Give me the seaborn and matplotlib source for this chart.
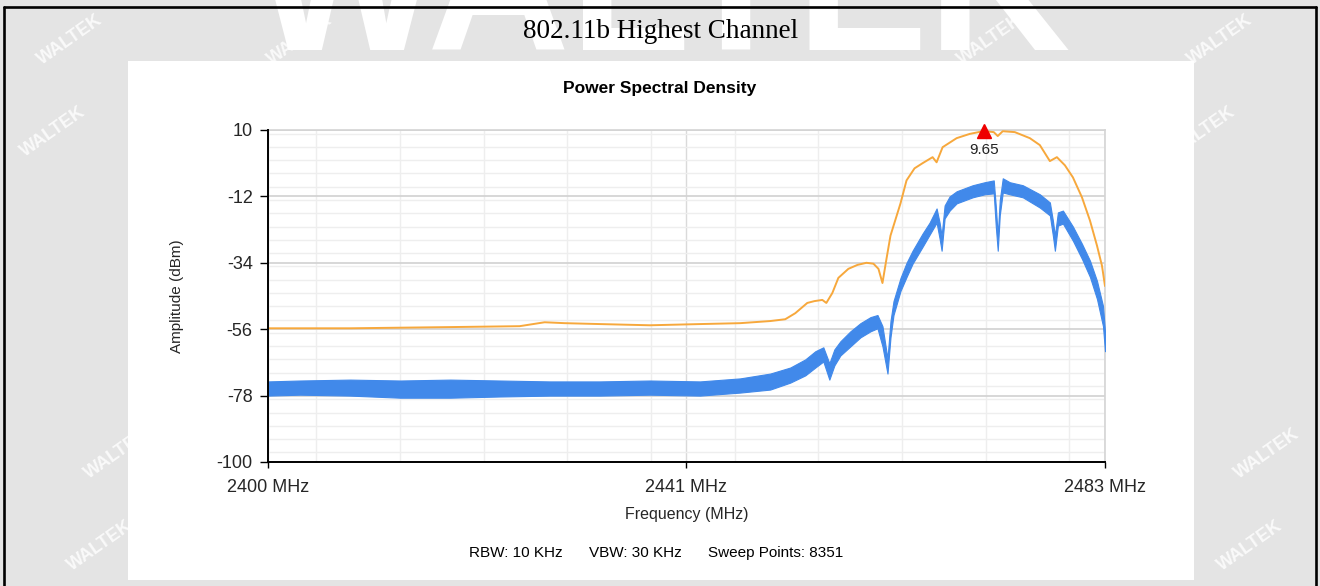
import numpy as np
import matplotlib
matplotlib.use("Agg")
import matplotlib.pyplot as plt
from matplotlib.patches import Rectangle
from matplotlib.lines import Line2D
from matplotlib.ticker import MultipleLocator, FixedLocator
import seaborn as sns
import pandas as pd

# ---------------- data ----------------
page_title = "802.11b Highest Channel"
chart_title = "Power Spectral Density"
x_label = "Frequency (MHz)"
y_label = "Amplitude (dBm)"
footer = ["RBW: 10 KHz", "VBW: 30 KHz", "Sweep Points: 8351"]
y_ticks = [10, -12, -34, -56, -78, -100]
x_ticks = [2400.0, 2441.75, 2483.5]
x_tick_labels = ["2400 MHz", "2441 MHz", "2483 MHz"]
peak_freq = 2471.4
peak_value = 9.65

# max-hold trace (orange)
orange_freq = [2400.0, 2408.2, 2418.2, 2425.1, 2427.6, 2429.6, 2433.1, 2438.1, 2443.1, 2447.1,
               2450.1, 2451.6, 2452.6, 2453.8, 2454.5, 2455.3, 2455.7, 2456.3, 2456.9, 2457.9,
               2458.8, 2459.7, 2460.4, 2460.9, 2461.3, 2461.7, 2462.1, 2463.1, 2463.7, 2464.5,
               2465.3, 2466.3, 2466.7, 2467.3, 2468.7, 2470.0, 2471.4, 2472.4, 2472.8, 2473.3,
               2474.5, 2476.0, 2477.0, 2478.0, 2478.7, 2479.5, 2480.3, 2481.2, 2482.0, 2482.7,
               2483.2, 2483.5]
orange_dbm = [-55.7, -55.7, -55.3, -55.0, -53.7, -54.0, -54.3, -54.7, -54.3, -54.0,
              -53.3, -52.7, -50.7, -47.3, -46.7, -46.3, -47.3, -44.0, -39.0, -36.0,
              -34.7, -34.0, -34.3, -36.0, -40.7, -32.7, -25.0, -14.3, -6.7, -2.7,
              -1.0, 1.0, -0.7, 4.3, 7.3, 8.7, 9.65, 9.3, 8.0, 9.6,
              9.3, 7.3, 5.0, -0.3, 1.0, -1.7, -5.7, -12.3, -20.0, -28.3,
              -35.0, -41.7]

# clear-write trace (blue) : upper / lower envelope of the noisy band
blue_freq = [2400.0, 2403.2, 2408.2, 2413.2, 2418.2, 2423.1, 2428.1, 2433.1, 2438.1, 2443.1,
             2447.1, 2450.1, 2452.1, 2453.6, 2454.6, 2455.4, 2456.0, 2456.5, 2457.1, 2458.1,
             2459.1, 2460.1, 2460.8, 2461.3, 2461.8, 2462.1, 2462.4, 2463.1, 2463.7, 2464.3,
             2465.3, 2466.0, 2466.7, 2467.0, 2467.2, 2467.5, 2468.0, 2468.7, 2470.3, 2471.5,
             2472.4, 2472.6, 2472.8, 2473.0, 2473.3, 2474.0, 2475.3, 2477.0, 2478.0, 2478.3,
             2478.5, 2478.8, 2479.3, 2480.3, 2481.2, 2482.0, 2482.7, 2483.3, 2483.5]
blue_hi = [-73.3, -73.0, -72.7, -73.0, -72.7, -73.0, -73.3, -73.3, -73.0, -73.3,
           -72.3, -70.7, -68.7, -66.0, -63.3, -62.0, -67.3, -62.7, -60.0, -56.7,
           -54.0, -52.0, -51.3, -55.0, -65.7, -53.3, -46.7, -39.0, -34.0, -30.0,
           -24.3, -20.7, -16.0, -20.7, -25.0, -15.0, -12.0, -10.3, -8.3, -7.3,
           -6.7, -15.0, -25.0, -13.3, -6.0, -7.3, -8.3, -11.3, -14.0, -20.0,
           -25.0, -17.3, -16.7, -22.0, -27.7, -33.3, -40.0, -48.3, -56.7]
blue_lo = [-78.0, -77.7, -78.0, -78.7, -78.7, -78.3, -78.0, -78.0, -77.7, -78.0,
           -77.0, -76.0, -73.7, -71.3, -68.7, -66.7, -72.7, -68.0, -64.7, -61.7,
           -58.7, -56.7, -55.7, -61.7, -70.7, -58.7, -51.3, -43.3, -38.7, -34.3,
           -28.7, -24.7, -20.7, -26.0, -30.0, -19.3, -16.7, -14.3, -12.3, -11.3,
           -11.0, -21.7, -30.0, -18.3, -10.7, -11.3, -12.3, -15.7, -18.3, -25.0,
           -30.0, -21.7, -21.0, -26.7, -32.7, -38.7, -46.0, -55.0, -63.3]

# ---------------- styling ----------------
sns.set_theme(style="white")
plt.rcParams["font.family"] = ["Liberation Sans", "DejaVu Sans"]

W, H = 1320, 586
fig = plt.figure(figsize=(W / 100, H / 100), dpi=100)
fig.patch.set_facecolor("#e4e4e4")

def fx(px):
    return px / W

def fy(py):
    return 1 - py / H

# watermark: big logo text and tiled small text (white on gray)
fig.text(fx(662), fy(50), "WALTEK", fontsize=142, fontweight="bold", color="white",
         ha="center", va="baseline", zorder=-3)
for r in range(-2, 10):
    for c in range(-2, 16):
        px = 70 + c * 115 - r * 17
        py = 40 + r * 92 + (c % 2) * 46
        if not (42 < px < W - 42 and 30 < py < H - 30):
            continue
        # invisible under the white panel, and keep the page title clear
        if 120 < px < 1202 and 55 < py < 585:
            continue
        if 490 < px < 840 and py < 50:
            continue
        fig.text(fx(px), fy(py), "WALTEK", fontsize=13, fontweight="bold",
                 color="white", alpha=0.8, rotation=35, ha="center", va="center",
                 zorder=-3)

# white chart panel
fig.patches.append(Rectangle((fx(128), fy(580)), fx(1194) - fx(128), fy(61) - fy(580),
                             transform=fig.transFigure, facecolor="white",
                             edgecolor="none", zorder=-1))

# page frame lines
for (x0, y0, x1, y1) in [(4, 7, 1316, 7), (4, 7, 4, 590), (1316, 7, 1316, 590)]:
    fig.add_artist(Line2D([fx(x0), fx(x1)], [fy(y0), fy(y1)], color="black", lw=1.9,
                          transform=fig.transFigure, zorder=5))

fig.text(fx(661), fy(31), page_title, fontsize=19.5, family="Liberation Serif",
         ha="center", va="center", color="black")
fig.text(fx(660), fy(89), chart_title, fontsize=12.5, fontweight="bold",
         ha="center", va="center", color="black")

ax = fig.add_axes([fx(268), fy(462), fx(1105) - fx(268), fy(130) - fy(462)])
ax.set_facecolor("white")

df_o = pd.DataFrame({"f": orange_freq, "a": orange_dbm})
ax.fill_between(blue_freq, blue_lo, blue_hi, color="#4189ea", lw=0.8,
                edgecolor="#4189ea", zorder=3)
sns.lineplot(data=df_o, x="f", y="a", ax=ax, color="#f7a83c", lw=1.4, zorder=4,
             estimator=None, sort=False)
ax.plot([peak_freq], [peak_value], marker="^", color="#ee0000", markersize=10,
        linestyle="none", zorder=6, clip_on=False)
ax.text(peak_freq, peak_value - 6.3, f"{peak_value:.2f}", fontsize=11, ha="center",
        va="center", color="#222222", zorder=6)

ax.set_xlim(x_ticks[0], x_ticks[-1])
ax.set_ylim(y_ticks[-1], y_ticks[0])
ax.yaxis.set_major_locator(FixedLocator(y_ticks))
ax.set_yticklabels([str(v) for v in y_ticks])
ax.xaxis.set_major_locator(FixedLocator(x_ticks))
ax.set_xticklabels(x_tick_labels)
ax.yaxis.set_minor_locator(MultipleLocator(4.4))
ax.xaxis.set_minor_locator(MultipleLocator(8.35))

ax.grid(which="minor", color="#eeeeee", lw=1.0, zorder=0)
ax.grid(which="major", axis="y", color="#d4d4d4", lw=1.3, zorder=0)
ax.grid(which="major", axis="x", color="#dadada", lw=1.0, zorder=0)
ax.set_axisbelow(True)

for s in ["top", "right"]:
    ax.spines[s].set_color("#d4d4d4")
    ax.spines[s].set_linewidth(1.2)
for s in ["left", "bottom"]:
    ax.spines[s].set_color("black")
    ax.spines[s].set_linewidth(1.4)
    ax.spines[s].set_zorder(7)

ax.tick_params(axis="y", which="major", direction="out", length=6, width=1.0,
               color="black", labelsize=13, pad=5, left=True)
ax.tick_params(axis="x", which="major", direction="out", length=4, width=1.0,
               color="black", labelsize=13, pad=8, bottom=True)
ax.tick_params(which="minor", length=0)

ax.set_xlabel(x_label, fontsize=11.5)
ax.set_ylabel(y_label, fontsize=11)
ax.xaxis.label.set_va("center")
ax.yaxis.label.set_va("center")
ax.xaxis.set_label_coords(0.5, (462 - 514) / 332)
ax.yaxis.set_label_coords((177 - 268) / 837, 0.5)

fx_positions = [469, 589, 708]
for txt, px in zip(footer, fx_positions):
    fig.text(fx(px), fy(553), txt, fontsize=11, ha="left", va="center", color="black")

fig.savefig("out.png", dpi=100, facecolor=fig.get_facecolor())
